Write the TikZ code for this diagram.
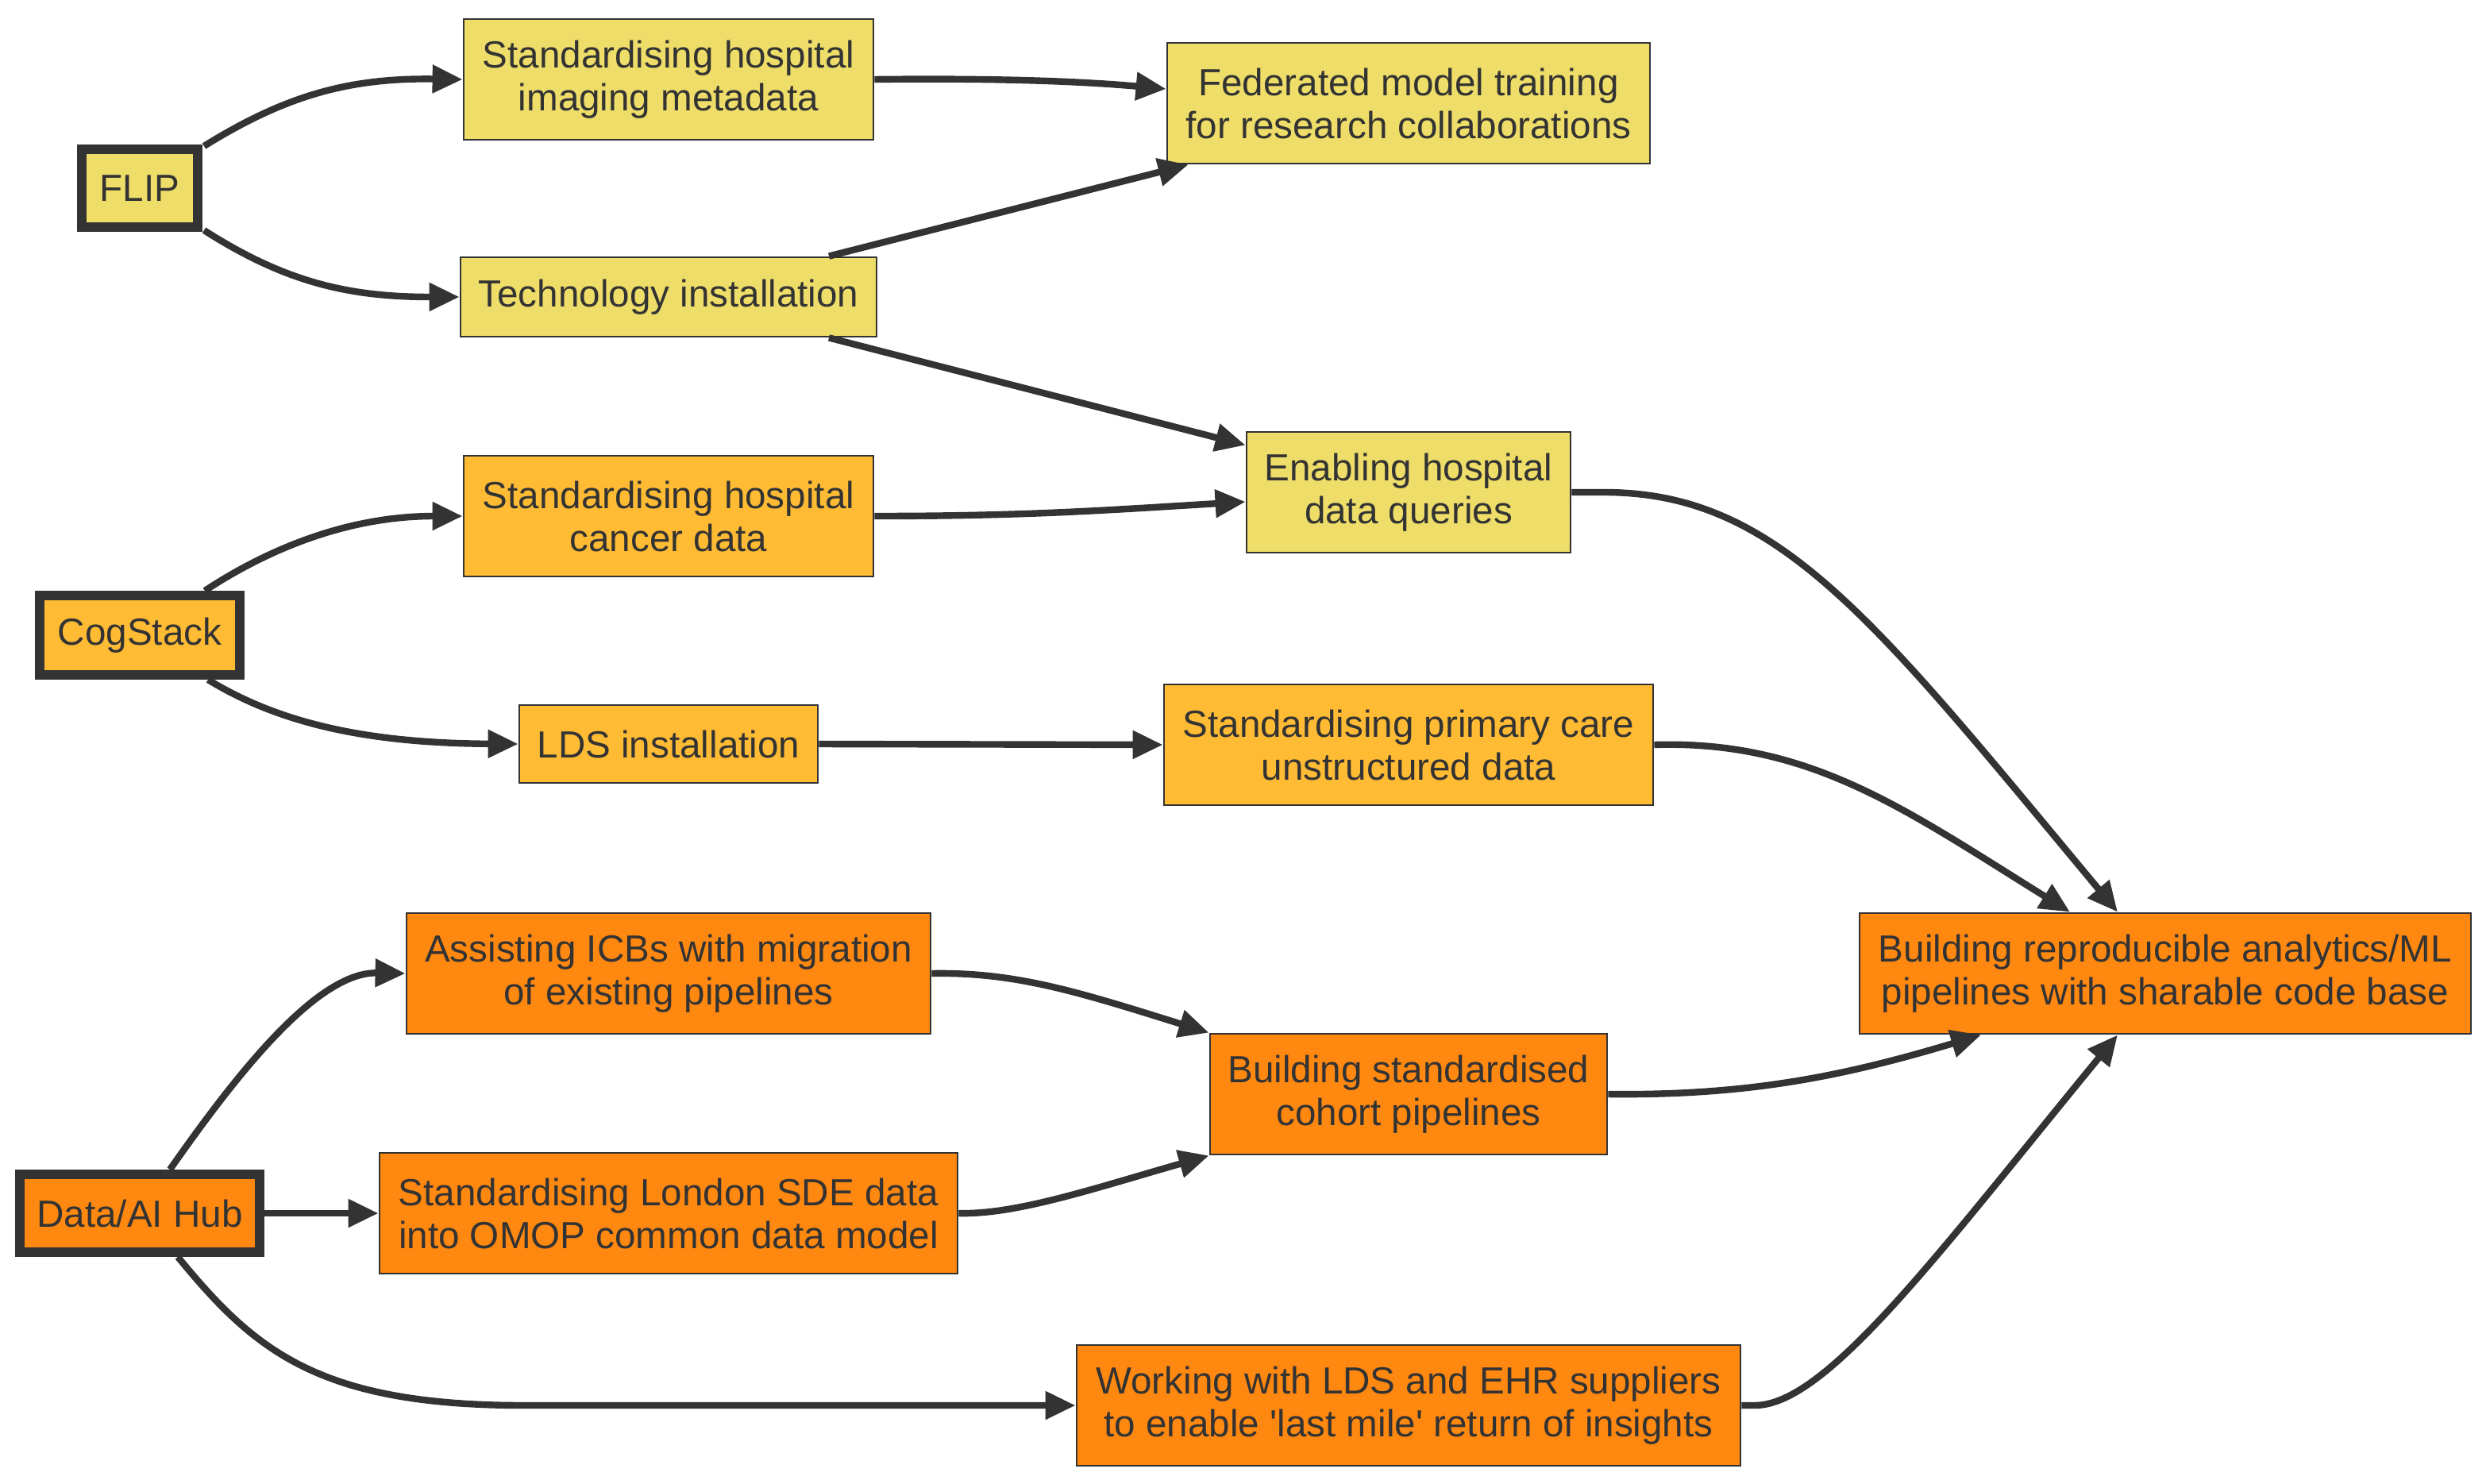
\documentclass[tikz,border=0pt]{standalone}
\usepackage{fontspec}
\setmainfont{Liberation Sans}
\usetikzlibrary{arrows.meta,calc}
\definecolor{ink}{HTML}{333333}
\definecolor{cyellow}{RGB}{238,221,104}
\definecolor{camber}{RGB}{255,187,51}
\definecolor{corange}{RGB}{255,136,17}
\tikzset{
  box/.style={rectangle,draw=ink,line width=1.4pt,text=ink,align=center,inner sep=0pt,
    font=\fontsize{23.8pt}{27pt}\selectfont},
  rootbox/.style={box,line width=6pt},
  ylw/.style={fill=cyellow},
  amb/.style={fill=camber},
  org/.style={fill=corange},
  conn/.style={draw=ink,line width=4.2pt,-{Triangle[length=19pt,width=17pt]}},
}
\begin{document}
\begin{tikzpicture}[x=1pt,y=-1pt]
\useasboundingbox (0,0) rectangle (1568,934);
% roots
\node[rootbox,ylw,minimum width=73pt,minimum height=49pt] (flip) at (88,118.5) {FLIP};
\node[rootbox,amb,minimum width=126pt,minimum height=50pt] (cog) at (88,400) {CogStack};
\node[rootbox,org,minimum width=151pt,minimum height=49pt] (hub) at (88,764) {Data/AI Hub};
% FLIP branch
\node[box,ylw,minimum width=258pt,minimum height=76pt] (img) at (421,50) {Standardising hospital\\imaging metadata};
\node[box,ylw,minimum width=262pt,minimum height=50pt] (tech) at (421,187) {Technology installation};
\node[box,ylw,minimum width=304pt,minimum height=76pt] (fed) at (887,65) {Federated model training\\for research collaborations};
\node[box,ylw,minimum width=204pt,minimum height=76pt] (enab) at (887,310) {Enabling hospital\\data queries};
% CogStack branch
\node[box,amb,minimum width=258pt,minimum height=76pt] (canc) at (421,325) {Standardising hospital\\cancer data};
\node[box,amb,minimum width=188pt,minimum height=49pt] (lds) at (421,468.5) {LDS installation};
\node[box,amb,minimum width=308pt,minimum height=76pt] (prim) at (887,469) {Standardising primary care\\unstructured data};
% Hub branch
\node[box,org,minimum width=330pt,minimum height=76pt] (icb) at (421,613) {Assisting ICBs with migration\\of existing pipelines};
\node[box,org,minimum width=364pt,minimum height=76pt] (sde) at (421,764) {Standardising London SDE data\\into OMOP common data model};
\node[box,org,minimum width=250pt,minimum height=76pt] (coh) at (887,689) {Building standardised\\cohort pipelines};
\node[box,org,minimum width=418pt,minimum height=76pt] (work) at (887,885) {Working with LDS and EHR suppliers\\to enable \textquotesingle last mile\textquotesingle{} return of insights};
\node[box,org,minimum width=385pt,minimum height=76pt] (build) at (1363.5,613) {Building reproducible analytics/ML\\pipelines with sharable code base};
% connectors
\draw[conn] ($(flip.north east)+(1,1)$) .. controls (180,60) and (220,49) .. (img.west);
\draw[conn] ($(flip.south east)+(1,-1)$) .. controls (180,178) and (220,187) .. (tech.west);
\draw[conn] (img.east) .. controls (640,49) and (690,52) .. ($(fed.west)+(0,-9)$);
\draw[conn] ($(tech.north)+(101,0)$) -- ($(fed.south west)+(14,0)$);
\draw[conn] ($(tech.south)+(101,0)$) -- ($(enab.north west)+(0,9)$);
\draw[conn] ($(cog.north east)+(-25,0)$) .. controls (170,345) and (220,325) .. (canc.west);
\draw[conn] (canc.east) .. controls (650,325) and (700,321) .. ($(enab.west)+(0,6)$);
\draw[conn] ($(cog.south east)+(-23,0)$) .. controls (175,455) and (230,468) .. (lds.west);
\draw[conn] (lds.east) -- (prim.west);
\draw[conn] (enab.east) -- (1010,310) .. controls (1120,310) and (1180,390) .. ($(build.north)+(-30,0)$);
\draw[conn] (prim.east) .. controls (1140,466) and (1200,510) .. ($(build.north)+(-60,0)$);
\draw[conn] ($(hub.north)+(19,0)$) .. controls (150,675) and (200,612) .. (icb.west);
\draw[conn] (hub.east) -- (sde.west);
\draw[conn] ($(hub.south)+(24,0)$) .. controls (160,850) and (200,885) .. (330,885) -- (work.west);
\draw[conn] (icb.east) .. controls (640,612) and (680,625) .. (coh.north west);
\draw[conn] (sde.east) .. controls (640,765) and (690,748) .. (coh.south west);
\draw[conn] (coh.east) .. controls (1100,690) and (1160,678) .. ($(build.south)+(-116,0)$);
\draw[conn] (work.east) -- (1105,885) .. controls (1150,885) and (1220,790) .. ($(build.south)+(-30,0)$);
\end{tikzpicture}
\end{document}
